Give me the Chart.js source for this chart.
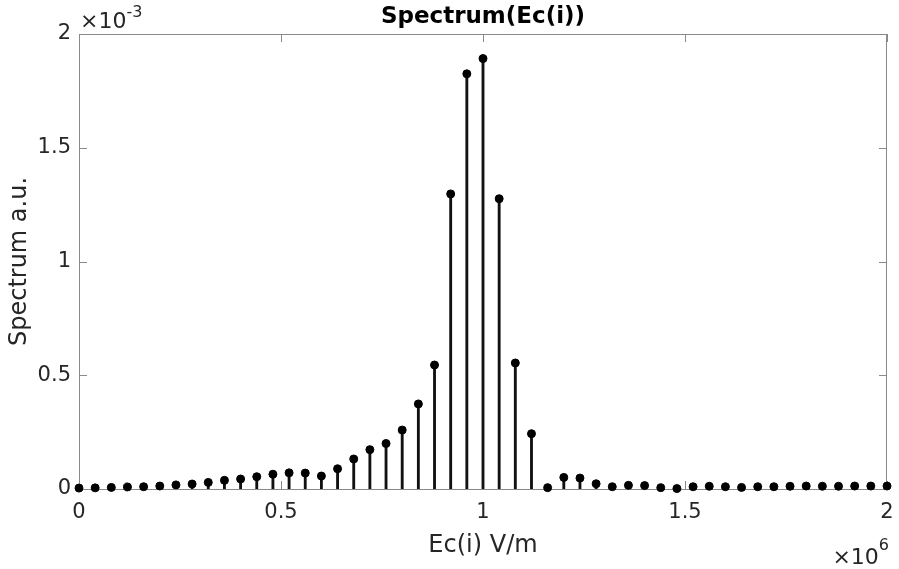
<!DOCTYPE html>
<html>
<head>
<meta charset="utf-8">
<script src="https://cdn.jsdelivr.net/npm/chart.js@4.4.1/dist/chart.umd.min.js"></script>
<style>
  html, body { margin: 0; padding: 0; background: #fff; }
  #wrap { width: 899px; height: 569px; }
</style>
</head>
<body>
<div id="wrap"><canvas id="myChart" width="899" height="569"></canvas></div>
<script>
// Ec(i) in units of 1e6 V/m
const ecField = [
  0, 0.04, 0.08, 0.12, 0.16, 0.20, 0.24, 0.28, 0.32, 0.36,
  0.40, 0.44, 0.48, 0.52, 0.56, 0.60, 0.64, 0.68, 0.72, 0.76,
  0.80, 0.84, 0.88, 0.92, 0.96, 1.00, 1.04, 1.08, 1.12, 1.16,
  1.20, 1.24, 1.28, 1.32, 1.36, 1.40, 1.44, 1.48, 1.52, 1.56,
  1.60, 1.64, 1.68, 1.72, 1.76, 1.80, 1.84, 1.88, 1.92, 1.96, 2.00
];
// Spectrum in units of 1e-3 a.u.
const spectrum = [
  0.004, 0.005, 0.007, 0.009, 0.010, 0.013, 0.018, 0.022, 0.029, 0.038,
  0.044, 0.054, 0.065, 0.071, 0.070, 0.057, 0.089, 0.132, 0.173, 0.200,
  0.259, 0.374, 0.545, 1.297, 1.825, 1.892, 1.276, 0.554, 0.243, 0.006,
  0.051, 0.048, 0.023, 0.010, 0.016, 0.015, 0.006, 0.002, 0.010, 0.012,
  0.010, 0.007, 0.010, 0.010, 0.012, 0.013, 0.012, 0.012, 0.013, 0.013, 0.013
];
const xTicks = [0, 0.5, 1, 1.5, 2];
const yTicks = [0, 0.5, 1, 1.5, 2];

const fontFamily = "'DejaVu Sans', sans-serif";
const textColor = "#262626";
const axisColor = "#8a8a8a";
const tickLen = 8;

const points = ecField.map((x, i) => ({ x: x, y: spectrum[i] }));

// frame box, inward ticks, title and exponent labels (MATLAB style)
const framePlugin = {
  id: "frame",
  beforeDatasetsDraw(chart) {
    const { ctx, chartArea: a, scales } = chart;
    ctx.save();
    ctx.strokeStyle = axisColor;
    ctx.lineWidth = 1;
    ctx.strokeRect(a.left + 0.5, a.top + 0.5, a.right - a.left - 1, a.bottom - a.top);
    ctx.beginPath();
    xTicks.forEach(v => {
      const px = Math.round(scales.x.getPixelForValue(v)) + 0.5;
      ctx.moveTo(px, a.bottom); ctx.lineTo(px, a.bottom - tickLen);
      ctx.moveTo(px, a.top); ctx.lineTo(px, a.top + tickLen);
    });
    yTicks.forEach(v => {
      const py = Math.round(scales.y.getPixelForValue(v)) + 0.5;
      ctx.moveTo(a.left, py); ctx.lineTo(a.left + tickLen, py);
      ctx.moveTo(a.right, py); ctx.lineTo(a.right - tickLen, py);
    });
    ctx.stroke();
    ctx.restore();
  },
  afterDraw(chart) {
    const { ctx, chartArea: a } = chart;
    ctx.save();
    ctx.fillStyle = "#000";
    ctx.textBaseline = "alphabetic";
    ctx.font = "bold 23px " + fontFamily;
    ctx.textAlign = "center";
    ctx.fillText("Spectrum(Ec(i))", (a.left + a.right) / 2, 23);

    ctx.fillStyle = textColor;
    ctx.textAlign = "left";
    ctx.font = "22px " + fontFamily;
    ctx.fillText("\u00d710", a.left + 1, 28);
    const w1 = ctx.measureText("\u00d710").width;
    ctx.font = "16px " + fontFamily;
    ctx.fillText("-3", a.left + 1 + w1, 17);

    ctx.font = "16px " + fontFamily;
    const w6 = ctx.measureText("6").width;
    ctx.fillText("6", 889 - w6, 550);
    ctx.font = "22px " + fontFamily;
    ctx.textAlign = "right";
    ctx.fillText("\u00d710", 889 - w6, 564);
    ctx.restore();
  }
};

const ctx = document.getElementById("myChart").getContext("2d");
const spectrumChart = new Chart(ctx, {
  type: "bar",
  data: {
    datasets: [
      {
        type: "scatter",
        data: points,
        backgroundColor: "#000",
        borderColor: "#000",
        pointRadius: 4,
        pointHoverRadius: 4,
        clip: false,
        order: 0
      },
      {
        type: "bar",
        data: points,
        backgroundColor: "#111",
        borderWidth: 0,
        barThickness: 2.2,
        order: 1
      }
    ]
  },
  options: {
    responsive: false,
    animation: false,
    layout: { padding: { top: 34, right: 12, left: 0, bottom: 0 } },
    plugins: {
      legend: { display: false },
      tooltip: { enabled: false },
      title: { display: false }
    },
    scales: {
      x: {
        type: "linear",
        min: 0,
        max: 2,
        offset: false,
        afterFit: s => { s.height = 80; s.paddingLeft = 0; s.paddingRight = 0; },
        afterBuildTicks: s => { s.ticks = xTicks.map(v => ({ value: v })); },
        grid: { display: false, drawTicks: false },
        border: { display: false },
        ticks: {
          color: textColor,
          font: { family: fontFamily, size: 21 },
          padding: 11,
          maxRotation: 0,
          callback: v => String(v)
        },
        title: {
          display: true,
          text: "Ec(i) V/m",
          color: textColor,
          font: { family: fontFamily, size: 24 },
          padding: { top: 0, bottom: 9 }
        }
      },
      y: {
        min: 0,
        max: 2,
        afterFit: s => { s.width = 79; s.paddingTop = 0; s.paddingBottom = 0; },
        afterBuildTicks: s => { s.ticks = yTicks.map(v => ({ value: v })); },
        grid: { display: false, drawTicks: false },
        border: { display: false },
        ticks: {
          color: textColor,
          font: { family: fontFamily, size: 21 },
          padding: 8,
          callback: v => String(v)
        },
        title: {
          display: true,
          text: "Spectrum a.u.",
          color: textColor,
          font: { family: fontFamily, size: 24 },
          padding: { top: 5, bottom: 0 }
        }
      }
    }
  },
  plugins: [framePlugin]
});
</script>
</body>
</html>
